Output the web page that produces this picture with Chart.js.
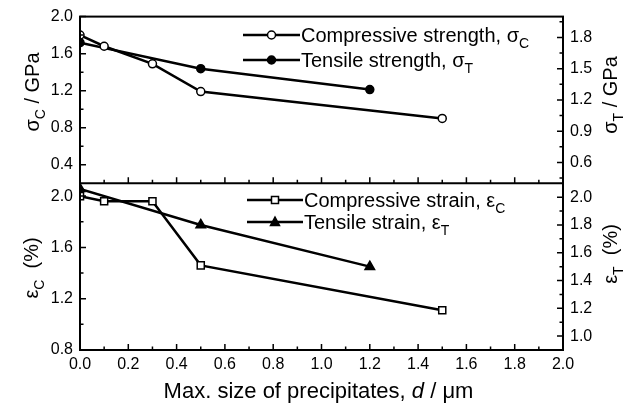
<!DOCTYPE html>
<html>
<head>
<meta charset="utf-8">
<script src="https://cdn.jsdelivr.net/npm/chart.js@4.4.1/dist/chart.umd.min.js"></script>
<style>
html, body { margin: 0; padding: 0; background: #fff; }
#wrap { width: 633px; height: 408px; }
</style>
</head>
<body>
<div id="wrap"><canvas id="myChart" width="633" height="408"></canvas></div>
<script>
// values
var sizeStrengthC = [0, 0.1, 0.3, 0.5, 1.5];
var strengthC = [1.80, 1.68, 1.49, 1.19, 0.90];
var sizeStrengthT = [0, 0.5, 1.2];
var strengthT = [1.75, 1.50, 1.30];
var sizeStrainC = [0, 0.1, 0.3, 0.5, 1.5];
var strainC = [2.00, 1.96, 1.96, 1.46, 1.11];
var sizeStrainT = [0, 0.5, 1.2];
var strainT = [2.06, 1.80, 1.50];

var xTicks = [0, 0.2, 0.4, 0.6, 0.8, 1.0, 1.2, 1.4, 1.6, 1.8, 2.0];
var topLeftTicks = [0.4, 0.8, 1.2, 1.6, 2.0];
var topRightTicks = [0.6, 0.9, 1.2, 1.5, 1.8];
var botLeftTicks = [0.8, 1.2, 1.6, 2.0];
var botRightTicks = [1.0, 1.2, 1.4, 1.6, 1.8, 2.0];

var FONT = '"Liberation Sans", Arial, sans-serif';
Chart.defaults.font.family = FONT;
Chart.defaults.font.size = 16;
Chart.defaults.color = '#000';

function pts(xs, ys) {
    var out = [];
    for (let i = 0; i < xs.length; i++) out.push({x: xs[i], y: ys[i]});
    return out;
}

function fix(list) {
    return function(s) { s.ticks = list.map(function(v) { return {value: v}; }); };
}

function yAxis(pos, order, min, max, list, width) {
    return {
        type: 'linear', position: pos, stack: pos, stackWeight: 1, weight: order,
        min: min, max: max,
        grid: {display: false, drawTicks: false},
        border: {display: false},
        ticks: {padding: 7, autoSkip: false, callback: function(v) { return v.toFixed(1); }},
        afterBuildTicks: fix(list),
        afterFit: function(s) { s.width = width; }
    };
}

// text runs with subscripts / italics, parts = [[text, 'n'|'s'|'i'], ...]
function richWidth(ctx, parts, size) {
    var w = 0;
    parts.forEach(function(p) {
        ctx.font = (p[1] == 'i' ? 'italic ' : '') + (p[1] == 's' ? size * 0.7 : size) + 'px ' + FONT;
        w += ctx.measureText(p[0]).width;
    });
    return w;
}
function richText(ctx, parts, x, y, size) {
    parts.forEach(function(p) {
        ctx.font = (p[1] == 'i' ? 'italic ' : '') + (p[1] == 's' ? size * 0.7 : size) + 'px ' + FONT;
        ctx.fillText(p[0], x, p[1] == 's' ? y + size * 0.28 : y);
        x += ctx.measureText(p[0]).width;
    });
}
function rotText(ctx, parts, bx, cy, size) {
    ctx.save();
    ctx.translate(bx, cy);
    ctx.rotate(-Math.PI / 2);
    var w = richWidth(ctx, parts, size);
    richText(ctx, parts, -w / 2, 0, size);
    ctx.restore();
}

function marker(ctx, style, x, y, filled) {
    ctx.beginPath();
    if (style == 'circle') ctx.arc(x, y, 4, 0, Math.PI * 2);
    if (style == 'rect') ctx.rect(x - 3.5, y - 3.5, 7, 7);
    if (style == 'triangle') { ctx.moveTo(x, y - 5); ctx.lineTo(x + 4.5, y + 3.5); ctx.lineTo(x - 4.5, y + 3.5); ctx.closePath(); }
    ctx.fillStyle = filled ? '#000' : '#fff';
    ctx.fill();
    ctx.lineWidth = 1.5;
    ctx.stroke();
}

var decor = {
    id: 'decor',
    afterDraw: function(chart) {
        var ctx = chart.ctx, a = chart.chartArea;
        var sx = chart.scales.x, tl = chart.scales.yTL, bl = chart.scales.yBL, tr = chart.scales.yTR, br = chart.scales.yBR;
        var mid = tl.bottom;
        ctx.save();
        ctx.strokeStyle = '#000';
        ctx.fillStyle = '#000';
        ctx.lineWidth = 2;
        ctx.strokeRect(a.left, a.top, a.right - a.left, a.bottom - a.top);
        ctx.beginPath(); ctx.moveTo(a.left, mid); ctx.lineTo(a.right, mid); ctx.stroke();

        ctx.lineWidth = 1.5;
        ctx.beginPath();
        // x ticks on both panel bottoms, pointing up
        for (let i = 0; i <= 20; i++) {
            var px = sx.getPixelForValue(i / 10), len = i % 2 == 0 ? 6 : 3.5;
            ctx.moveTo(px, a.bottom); ctx.lineTo(px, a.bottom - len);
            ctx.moveTo(px, mid); ctx.lineTo(px, mid - len);
        }
        // y ticks, inward
        function yt(scale, x0, dir, from, to, step, majors) {
            for (let v = from; v <= to + 1e-6; v += step) {
                var py = scale.getPixelForValue(v);
                var major = majors.some(function(m) { return Math.abs(m - v) < 1e-6; });
                ctx.moveTo(x0, py); ctx.lineTo(x0 + dir * (major ? 6 : 3.5), py);
            }
        }
        yt(tl, a.left, 1, 0.4, 2.0, 0.2, topLeftTicks);
        yt(bl, a.left, 1, 0.8, 2.0, 0.2, botLeftTicks);
        yt(tr, a.right, -1, 0.45, 1.95, 0.15, topRightTicks);
        yt(br, a.right, -1, 1.0, 2.0, 0.1, botRightTicks);
        ctx.stroke();

        // axis titles
        ctx.fillStyle = '#000';
        ctx.textBaseline = 'alphabetic';
        rotText(ctx, [['\u03c3', 'n'], ['C', 's'], [' / GPa', 'n']], 39, 92, 20);
        rotText(ctx, [['\u03b5', 'n'], ['C', 's'], ['  (%)', 'n']], 38, 268, 20);
        rotText(ctx, [['\u03c3', 'n'], ['T', 's'], [' / GPa', 'n']], 617, 95, 20);
        rotText(ctx, [['\u03b5', 'n'], ['T', 's'], ['  (%)', 'n']], 617, 254, 20);
        var xt = [['Max. size of precipitates, ', 'n'], ['d', 'i'], [' / \u03bcm', 'n']];
        var w = richWidth(ctx, xt, 22);
        richText(ctx, xt, (a.left + a.right) / 2 - w / 2 - 3, 398, 22);

        // legends
        var items = [
            [35, 243, 300, 'circle', false, [['Compressive strength, \u03c3', 'n'], ['C', 's']]],
            [60, 243, 300, 'circle', true, [['Tensile strength, \u03c3', 'n'], ['T', 's']]],
            [200, 247, 303, 'rect', false, [['Compressive strain, \u03b5', 'n'], ['C', 's']]],
            [222, 247, 303, 'triangle', true, [['Tensile strain, \u03b5', 'n'], ['T', 's']]]
        ];
        items.forEach(function(it) {
            ctx.lineWidth = 2.5;
            ctx.beginPath(); ctx.moveTo(it[1], it[0]); ctx.lineTo(it[2], it[0]); ctx.stroke();
            marker(ctx, it[3], (it[1] + it[2]) / 2, it[0], it[4]);
            ctx.fillStyle = '#000';
            richText(ctx, it[5], it[2] + 1, it[0] + 7, 20);
        });
        ctx.restore();
    }
};

function series(label, data, axis, style, radius, filled) {
    return {
        label: label, data: data, yAxisID: axis,
        borderColor: '#000', borderWidth: 2.5,
        pointStyle: style, pointRadius: radius, pointBorderWidth: 1.5,
        pointBackgroundColor: filled ? '#000' : '#fff', pointBorderColor: '#000',
        tension: 0
    };
}

new Chart(document.getElementById('myChart'), {
    type: 'line',
    data: {
        datasets: [
            series('Compressive strength', pts(sizeStrengthC, strengthC), 'yTL', 'circle', 4, false),
            series('Tensile strength', pts(sizeStrengthT, strengthT), 'yTR', 'circle', 4, true),
            series('Compressive strain', pts(sizeStrainC, strainC), 'yBL', 'rect', 5, false),
            series('Tensile strain', pts(sizeStrainT, strainT), 'yBR', 'triangle', 5.5, true)
        ]
    },
    options: {
        responsive: false,
        animation: false,
        layout: {padding: {top: 15, left: 0, right: 0, bottom: 0}},
        plugins: {legend: {display: false}, tooltip: {enabled: false}},
        scales: {
            x: {
                type: 'linear', position: 'bottom', min: 0, max: 2.0,
                grid: {display: false, drawTicks: false},
                border: {display: false},
                ticks: {padding: 5, autoSkip: false, maxRotation: 0, callback: function(v) { return v.toFixed(1); }},
                afterBuildTicks: fix(xTicks),
                afterFit: function(s) { s.height = 58; }
            },
            yTL: yAxis('left', 1, 0.2, 2.0, topLeftTicks, 80),
            yBL: yAxis('left', 0, 0.8, 2.1, botLeftTicks, 80),
            yTR: yAxis('right', 0, 0.4, 2.0, topRightTicks, 70),
            yBR: yAxis('right', 1, 0.9, 2.1, botRightTicks, 70)
        }
    },
    plugins: [decor]
});
</script>
</body>
</html>
